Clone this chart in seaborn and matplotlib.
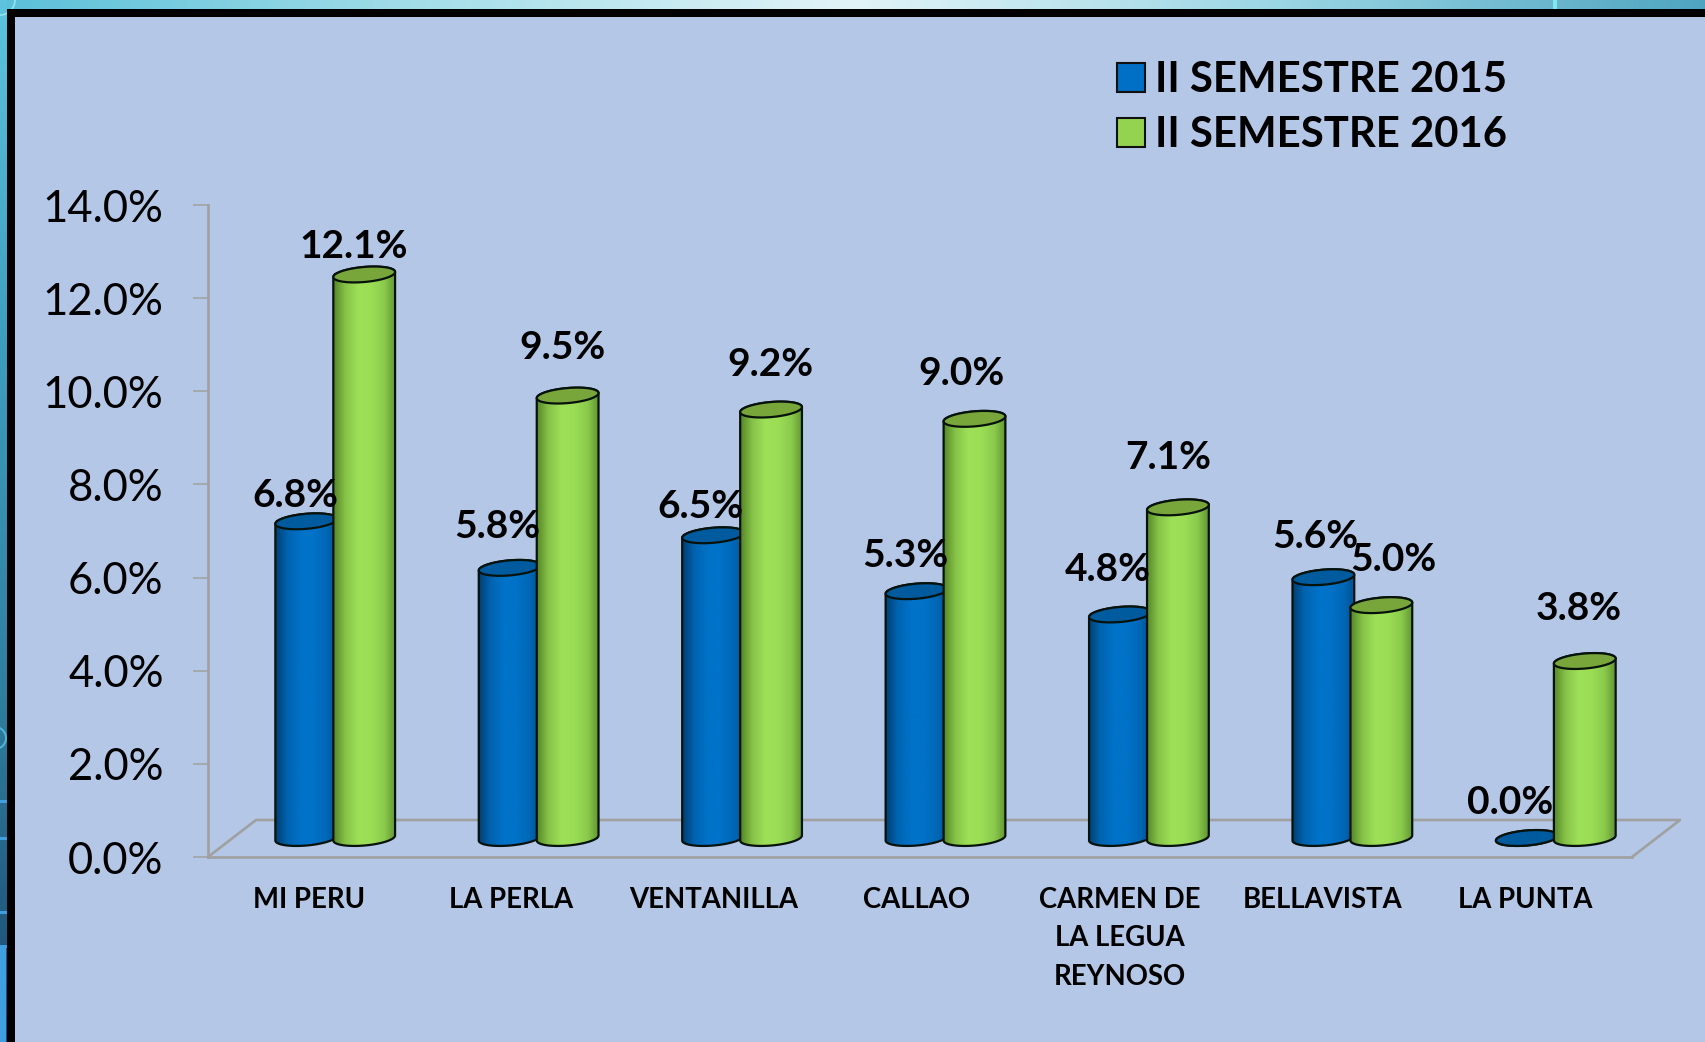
import numpy as np
import pandas as pd
import matplotlib
matplotlib.use("Agg")
import matplotlib.pyplot as plt
from matplotlib.colors import LinearSegmentedColormap
from matplotlib.patches import Circle, Polygon, Rectangle
from matplotlib.ticker import FuncFormatter
import seaborn as sns

# values
districts = ["MI PERU", "LA PERLA", "VENTANILLA", "CALLAO",
             "CARMEN DE\nLA LEGUA\nREYNOSO", "BELLAVISTA", "LA PUNTA"]
values_2015 = [6.8, 5.8, 6.5, 5.3, 4.8, 5.6, 0.0]
values_2016 = [12.1, 9.5, 9.2, 9.0, 7.1, 5.0, 3.8]
series_names = ["II SEMESTRE 2015", "II SEMESTRE 2016"]
y_ticks = [0, 2, 4, 6, 8, 10, 12, 14]

# hand placed data labels in the original, pixels from the bar top
nudge_2015 = [(-11, 26), (-12, 41), (-13, 29), (-11, 36), (-12, 45), (-8, 41), (-17, 35)]
nudge_2016 = [(-11, 28), (-5, 48), (-1, 45), (-13, 45), (-10, 50), (12, 46), (-6, 53)]

W, H = 1706, 1042
AX_LEFT, AX_RIGHT, AX_TOP, AX_BOTTOM = 208, 1632, 205, 857
PX_X = (AX_RIGHT - AX_LEFT) / 7      # pixels per category
PX_Y = (AX_BOTTOM - AX_TOP) / 14     # pixels per percent
SHIFT_X = 25.5 / PX_X                # fake 3D floor offset
SHIFT_Y = 19 / PX_Y
RADIUS_X, RADIUS_Y = 31, 7.5         # cylinder ends, pixels
TILT = np.radians(5)

PANEL = "#B4C7E7"
GREY = "#A0A0A0"
BLUE = "#0070C6"
GREEN = "#93D350"
FONT = "Lato"

sns.set_theme(style="white")
plt.rcParams["font.family"] = [FONT, "DejaVu Sans"]
plt.rcParams["text.color"] = "black"

fig = plt.figure(figsize=(W / 100, H / 100), dpi=100, facecolor=PANEL)

# slide background behind the chart
bg = fig.add_axes([0, 0, 1, 1], zorder=0)
bg.set_xlim(0, W)
bg.set_ylim(H, 0)
bg.axis("off")
top_cmap = LinearSegmentedColormap.from_list(
    "top", ["#5BC0D8", "#A4DEE9", "#E2F4F8", "#9BD6E4", "#4FA5C0"])
side_cmap = LinearSegmentedColormap.from_list(
    "side", ["#5CC4DE", "#3E9DBD", "#2F7F9F", "#1A4870"])
bg.imshow(np.linspace(0, 1, 256)[None, :], extent=(0, W, 9, 0), cmap=top_cmap, aspect="auto")
bg.imshow(np.linspace(0, 1, 256)[:, None], extent=(0, 7, H, 0), cmap=side_cmap, aspect="auto")
for y0 in [800, 837, 911, 945]:
    bg.add_patch(Rectangle((0, y0), 7, 3, color="#3F9FE0", lw=0))
bg.add_patch(Rectangle((0, 945), 6, H - 945, color="#3F9FE0", lw=0))
bg.add_patch(Rectangle((1553, 0), 4, 9, color="#7FE8F2", lw=0))
bg.add_patch(Circle((0, 0), 15, fc="none", ec="#8FE6F2", lw=1.2))
bg.add_patch(Circle((-5, 738), 11, fc="none", ec="#4FB6DC", lw=1.4))
bg.add_patch(Rectangle((7, 9), W - 7, 8, color="black", lw=0, zorder=3))
bg.add_patch(Rectangle((7, 9), 8, H - 9, color="black", lw=0, zorder=3))
# chart floor
bg.plot([AX_LEFT, 256, 1680, AX_RIGHT], [AX_BOTTOM, 820, 820, AX_BOTTOM], color=GREY, lw=1.9)
bg.set_xlim(0, W)
bg.set_ylim(H, 0)

ax = fig.add_axes([AX_LEFT / W, (H - AX_BOTTOM) / H,
                   (AX_RIGHT - AX_LEFT) / W, (AX_BOTTOM - AX_TOP) / H], zorder=1)
ax.patch.set_visible(False)

df = pd.DataFrame({
    "distrito": districts * 2,
    "semestre": [series_names[0]] * 7 + [series_names[1]] * 7,
    "valor": values_2015 + values_2016,
})
sns.barplot(data=df, x="distrito", y="valor", hue="semestre", palette=[BLUE, GREEN],
            width=0.57, saturation=1, edgecolor="#101010", linewidth=1.5, ax=ax)
ax.set_xlim(-0.5, 6.5)
ax.set_ylim(0, 14)
ax.set_xlabel("")
ax.set_ylabel("")


def end_points(cx, cy, t):
    # tilted ellipse, given in data units
    ex = RADIUS_X * np.cos(t)
    ey = RADIUS_Y * np.sin(t)
    return np.column_stack([cx + (ex * np.cos(TILT) - ey * np.sin(TILT)) / PX_X,
                            cy + (ex * np.sin(TILT) + ey * np.cos(TILT)) / PX_Y])


def draw_cylinder(cx, height, cmap, top_color, order):
    base = SHIFT_Y
    top = base + height
    lower = end_points(cx, base, np.linspace(np.pi, 2 * np.pi, 40))
    upper = end_points(cx, top, np.linspace(0, np.pi, 40))
    body = Polygon(np.vstack([lower, upper]), closed=True, fc="none", ec="#07120C",
                   lw=1.6, zorder=order + 0.2, clip_on=False)
    ax.add_patch(body)
    x0, x1 = cx - RADIUS_X * 1.05 / PX_X, cx + RADIUS_X * 1.05 / PX_X
    grad = ax.imshow(np.linspace(0, 1, 128)[None, :], extent=(x0, x1, 0, top + 1),
                     cmap=cmap, aspect="auto", zorder=order + 0.1)
    grad.set_clip_path(body)
    cap = Polygon(end_points(cx, top, np.linspace(0, 2 * np.pi, 80)), closed=True,
                  fc=top_color, ec="#07120C", lw=1.6, zorder=order + 0.3, clip_on=False)
    ax.add_patch(cap)


blue_cmap = LinearSegmentedColormap.from_list(
    "blue3d", ["#013A6B", "#0063AE", "#0072C8", "#0072C8", "#0067B6", "#004E8C"])
green_cmap = LinearSegmentedColormap.from_list(
    "green3d", ["#4F7F22", "#86C248", "#9EE058", "#9CDD56", "#8ACA4C", "#5A8A2E"])

bars = [bar for container in ax.containers for bar in container]
labels_info = list(zip(values_2015 + values_2016, nudge_2015 + nudge_2016))
for i, bar in enumerate(bars):
    is_blue = i < 7
    bar.set_x(bar.get_x() + SHIFT_X)
    bar.set_y(SHIFT_Y)
    cx = bar.get_x() + bar.get_width() / 2
    value, (nx, ny) = labels_info[i]
    draw_cylinder(cx, bar.get_height(), blue_cmap if is_blue else green_cmap,
                  "#005A9E" if is_blue else "#78A63A", 3 if is_blue else 4)
    ax.annotate(f"{value:.1f}%", xy=(cx, SHIFT_Y + value), xytext=(nx, ny),
                textcoords="offset pixels", ha="center", va="center",
                fontsize=28, fontweight="bold", color="black", zorder=10,
                annotation_clip=False)

ax.set_xlim(-0.5, 6.5)
ax.set_ylim(0, 14)

# category labels sit a touch tighter than the bars in the original
ax.set_xticks(np.arange(7) * 0.9965 - 0.005, labels=districts)
ax.set_yticks(y_ticks)
ax.yaxis.set_major_formatter(FuncFormatter(lambda v, _: f"{v:.1f}%"))
ax.tick_params(axis="y", length=11, width=1.1, color=GREY, pad=21, labelsize=31.4,
               labelcolor="black", left=True)
ax.tick_params(axis="x", length=0, pad=21.5, labelsize=19.8, labelcolor="black", bottom=False)
for lab in ax.get_xticklabels():
    lab.set_fontweight("bold")
    lab.set_linespacing(1.6)
sns.despine(ax=ax, top=True, right=True)
for side in ["left", "bottom"]:
    ax.spines[side].set_color(GREY)
    ax.spines[side].set_linewidth(1.9)

handles, names = ax.get_legend_handles_labels()
ax.get_legend().remove()
fig.legend(handles, names, loc="upper left", bbox_to_anchor=(1117 / W, 1 - 61 / H),
           bbox_transform=fig.transFigure, frameon=False, labelcolor="black",
           prop={"family": FONT, "weight": "bold", "size": 30.2},
           handlelength=0.67, handleheight=0.67, handletextpad=0.24,
           labelspacing=0.41, borderpad=0, borderaxespad=0)

fig.savefig("out.png", dpi=100, facecolor=PANEL)
